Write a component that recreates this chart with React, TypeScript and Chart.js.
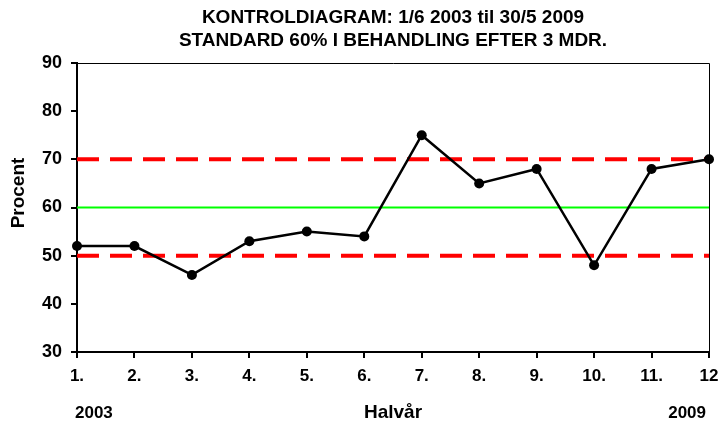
import React, { useEffect, useRef } from "react";
import { Chart, registerables } from "chart.js";

Chart.register(...registerables);

const titleLines = ["KONTROLDIAGRAM: 1/6 2003 til 30/5 2009", "STANDARD 60% I BEHANDLING EFTER 3 MDR."];
const halfYears = ["1.", "2.", "3.", "4.", "5.", "6.", "7.", "8.", "9.", "10.", "11.", "12"];
const percentValues = [52, 52, 46, 53, 55, 54, 75, 65, 68, 48, 68, 70];
const upperLimit = [70, 70, 70, 70, 70, 70, 70, 70, 70, 70, 70, 70];
const standardLine = [60, 60, 60, 60, 60, 60, 60, 60, 60, 60, 60, 60];
const lowerLimit = [50, 50, 50, 50, 50, 50, 50, 50, 50, 50, 50, 50];
const yMin = 30;
const yMax = 90;
const yStep = 10;
const yTitle = "Procent";
const xTitle = "Halvår";
const startYear = "2003";
const endYear = "2009";

const FONT = "'Liberation Sans', Arial, sans-serif";

export default function App() {
  const ref = useRef<HTMLCanvasElement | null>(null);

  useEffect(() => {
    if (!ref.current) return;
    const extras = {
      id: "extras",
      afterDraw(chart: any) {
        const { ctx, chartArea } = chart;
        const { left, right, top, bottom } = chartArea;
        const cx = (left + right) / 2;
        ctx.save();
        // frame top & right
        ctx.strokeStyle = "#000";
        ctx.lineWidth = 1;
        ctx.beginPath();
        ctx.moveTo(left, Math.round(top) + 0.5);
        ctx.lineTo(Math.round(right) + 0.5, Math.round(top) + 0.5);
        ctx.lineTo(Math.round(right) + 0.5, bottom);
        ctx.stroke();
        ctx.fillStyle = "#000";
        ctx.textAlign = "center";
        ctx.textBaseline = "middle";
        ctx.font = `bold 19px ${FONT}`;
        ctx.fillText(titleLines[0], cx, 18);
        ctx.fillText(titleLines[1], cx, 41);
        ctx.font = `bold 19px ${FONT}`;
        ctx.fillText(xTitle, cx, 413);
        ctx.font = `bold 17px ${FONT}`;
        ctx.textAlign = "left";
        ctx.fillText(startYear, 75, 413);
        ctx.textAlign = "right";
        ctx.fillText(endYear, 706, 413);
        ctx.save();
        ctx.translate(19, 193);
        ctx.rotate(-Math.PI / 2);
        ctx.textAlign = "center";
        ctx.font = `bold 19px ${FONT}`;
        ctx.fillText(yTitle, 0, 0);
        ctx.restore();
        ctx.restore();
      },
    };

    const chart = new Chart(ref.current, {
      type: "line",
      data: {
        labels: halfYears,
        datasets: [
          {
            label: "Procent",
            data: percentValues,
            borderColor: "#000",
            backgroundColor: "#000",
            borderWidth: 2.5,
            pointRadius: 5,
            pointBackgroundColor: "#000",
            pointBorderColor: "#000",
            pointBorderWidth: 0,
            tension: 0,
            clip: false as any,
            order: 0,
          },
          {
            label: "Øvre",
            data: upperLimit,
            borderColor: "#FF0000",
            borderWidth: 4,
            borderDash: [22, 11],
            pointRadius: 0,
            order: 2,
          },
          {
            label: "Standard",
            data: standardLine,
            borderColor: "#00FF00",
            borderWidth: 2,
            pointRadius: 0,
            order: 2,
          },
          {
            label: "Nedre",
            data: lowerLimit,
            borderColor: "#FF0000",
            borderWidth: 4,
            borderDash: [22, 11],
            pointRadius: 0,
            order: 2,
          },
        ],
      },
      options: {
        animation: false,
        responsive: false,
        maintainAspectRatio: false,
        layout: { padding: { top: 63, right: 11, left: 0, bottom: 0 } },
        plugins: {
          legend: { display: false },
          tooltip: { enabled: false },
          title: { display: false },
        },
        scales: {
          x: {
            type: "category",
            offset: false,
            grid: {
              display: true,
              drawOnChartArea: false,
              drawTicks: true,
              tickLength: 6,
              color: "#000",
              lineWidth: 2,
            },
            border: { display: true, color: "#000", width: 2 },
            ticks: {
              autoSkip: false,
              maxRotation: 0,
              minRotation: 0,
              padding: 8,
              color: "#000",
              font: { family: FONT, size: 17, weight: "bold" },
            },
            afterFit(scale: any) {
              scale.height = 71;
              scale.paddingLeft = 0;
              scale.paddingRight = 0;
            },
          },
          y: {
            min: yMin,
            max: yMax,
            grid: {
              display: true,
              drawOnChartArea: false,
              drawTicks: true,
              tickLength: 6,
              color: "#000",
              lineWidth: 2,
            },
            border: { display: true, color: "#000", width: 2 },
            ticks: {
              stepSize: yStep,
              padding: 9,
              color: "#000",
              font: { family: FONT, size: 18, weight: "bold" },
            },
            afterFit(scale: any) {
              scale.width = 77;
              scale.paddingTop = 0;
              scale.paddingBottom = 0;
            },
          },
        },
      },
      plugins: [extras],
    } as any);
    return () => chart.destroy();
  }, []);

  return (
    <div style={{ position: "fixed", left: 0, top: 0, width: 720, height: 423, background: "#fff" }}>
      <canvas ref={ref} width={720} height={423} style={{ width: 720, height: 423 }} />
    </div>
  );
}
